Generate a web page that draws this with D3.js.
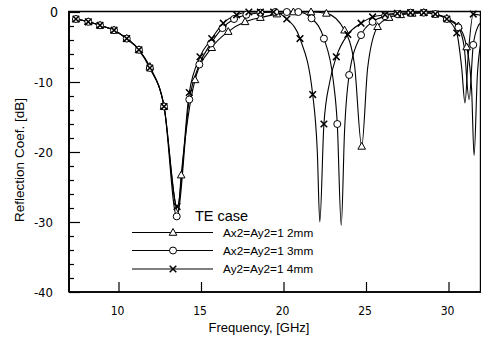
<!DOCTYPE html>
<html><head><meta charset="utf-8">
<script src="https://cdn.jsdelivr.net/npm/d3@7"></script>
<style>
html,body{margin:0;padding:0;background:#fff;}
svg{display:block;}
.tick text{font-family:"Liberation Sans Narrow","DejaVu Sans Condensed",sans-serif;}
</style></head>
<body>
<svg id="chart" width="481" height="338"></svg>
<script>
// ---- data ----
const xTicks = [10, 15, 20, 25, 30];
const yTicks = [0, -10, -20, -30, -40];
const seriesNames = ["Ax2=Ay2=1 2mm", "Ax2=Ay2=1 3mm", "Ay2=Ay2=1 4mm"];
const seriesSymbols = ["triangle", "circle", "cross"];

const f12  = [7.42,8.17,8.88,9.73,10.5,11.24,11.9,12.76,13.6,13.8,14.64,15.65,16.65,17.67,18.6,19.6,20.6,21.67,22.6,23.7,24.3,24.74,25.1,25.7,26.4,27.1,27.8,28.5,29.2,29.9,30.6,31.1,31.4,31.55,31.75,32.0];
const db12 = [-1.0,-1.4,-1.9,-2.6,-3.8,-5.4,-7.8,-13.5,-28.5,-23.3,-9.7,-5.1,-2.8,-1.4,-0.8,-0.3,0,0,-0.2,-2.6,-7.5,-19.2,-8,-2.1,-0.8,-0.4,-0.2,-0.1,-0.3,-0.9,-2.0,-5,-11,-20.5,-9,-4];
const mk12 = [1,1,1,1,1,1,1,1,0,1,1,1,1,1,1,1,1,1,1,1,0,1,0,1,1,1,1,1,1,1,1,1,0,0,0,0];

const f13  = [7.42,8.17,8.88,9.73,10.5,11.24,11.9,12.76,13.53,14.29,14.9,15.6,16.3,17.0,17.75,18.6,19.5,20.2,20.9,21.7,22.45,23.0,23.26,23.5,23.7,23.98,24.7,25.4,26.15,26.9,27.7,28.5,29.2,29.9,30.6,30.95,31.25,31.5,31.8,32.0];
const db13 = [-1.0,-1.4,-1.9,-2.6,-3.8,-5.4,-8.0,-13.5,-29.2,-12.5,-7.5,-4.5,-2.3,-1.0,-0.4,-0.1,0,0,0,-0.9,-3.8,-9.5,-16,-30.5,-17,-9,-3.3,-1.4,-0.6,-0.3,-0.1,-0.1,-0.3,-1.0,-2.2,-5,-12.5,-4.7,-2,-1.5];
const mk13 = [1,1,1,1,1,1,1,1,1,1,1,1,1,1,1,1,1,1,1,1,1,0,1,0,0,1,1,1,1,1,1,1,1,1,1,0,0,1,0,0];

const f14  = [7.42,8.17,8.88,9.73,10.5,11.24,11.9,12.76,13.55,14.29,14.94,15.65,16.35,17.16,17.9,18.6,19.4,20.2,21.0,21.77,22.05,22.2,22.45,22.8,23.2,23.9,24.7,25.4,26.15,26.9,27.7,28.5,29.2,29.9,30.5,30.8,31.0,31.2,31.5,31.8,32.0];
const db14 = [-1.0,-1.4,-1.9,-2.6,-3.8,-5.4,-8.0,-13.5,-27.8,-11.5,-6.4,-3.8,-1.6,-0.4,0,0,0,-1.0,-3.8,-11.8,-20,-30,-16,-10,-6.4,-3.2,-1.6,-0.7,-0.4,-0.2,-0.1,-0.1,-0.3,-1.0,-3,-8,-13,-6,-0.3,-0.4,-0.5];
const mk14 = [1,1,1,1,1,1,1,1,1,1,1,1,1,1,1,1,1,1,1,1,0,0,1,0,1,1,1,1,1,1,1,1,1,1,1,0,0,0,1,0,0];

// ---- build ----
const series = [
  {f: f12, db: db12, mk: mk12},
  {f: f13, db: db13, mk: mk13},
  {f: f14, db: db14, mk: mk14}
].map((s, i) => ({
  name: seriesNames[i], sym: seriesSymbols[i],
  pts: s.f.map((v, j) => ({f: v, db: s.db[j], m: s.mk[j]}))
}));

const svg = d3.select("#chart");
const L = 69, R = 481.5, T = 12, B = 292;
const x = d3.scaleLinear().domain([7, 32]).range([L, R]);
const y = d3.scaleLinear().domain([0, -40]).range([T, B]);

svg.append("defs").append("clipPath").attr("id", "clip")
  .append("rect").attr("x", L).attr("y", 0).attr("width", 480 - L).attr("height", B);

// minor y ticks
svg.append("g").attr("transform", `translate(${L},0)`)
  .call(d3.axisLeft(y).tickValues(d3.range(-2, -40, -2).filter(v => v % 10 !== 0))
    .tickSizeInner(-5).tickSizeOuter(0).tickFormat(""))
  .call(g => g.select(".domain").remove())
  .selectAll("line").attr("stroke", "#000").attr("stroke-width", 1.2);

// major y ticks
const yAx = svg.append("g").attr("transform", `translate(${L},0)`)
  .call(d3.axisLeft(y).tickValues(yTicks).tickSizeInner(-11).tickSizeOuter(0)
    .tickPadding(16).tickFormat(d => d === 0 ? "0" : String(d)));
yAx.select(".domain").remove();
yAx.selectAll("line").attr("stroke", "#000").attr("stroke-width", 1.2);
yAx.selectAll("text").attr("font-size", 13).attr("fill", "#000");
yAx.selectAll(".tick").filter(d => d === 0).select("text").attr("x", -11).attr("font-size", 14);

// x ticks
const xAx = svg.append("g").attr("transform", `translate(0,${B})`)
  .call(d3.axisBottom(x).tickValues(xTicks).tickSizeInner(-10).tickSizeOuter(0).tickPadding(14));
xAx.select(".domain").remove();
xAx.selectAll("line").attr("stroke", "#000").attr("stroke-width", 1.2);
xAx.selectAll("text").attr("font-size", 12).attr("fill", "#000").attr("dx", -1.5);

// frame
svg.append("path")
  .attr("d", `M${L},${B}V11.5H480.5V${B}H${L}`)
  .attr("fill", "none").attr("stroke", "#000").attr("stroke-width", 1.4);
svg.append("line").attr("x1", L).attr("x2", L).attr("y1", 11).attr("y2", B + 0.5)
  .attr("stroke", "#000").attr("stroke-width", 1.8);
svg.append("line").attr("x1", L).attr("x2", 481).attr("y1", B).attr("y2", B)
  .attr("stroke", "#000").attr("stroke-width", 1.6);

// symbols
function drawSym(g, sym, cx, cy) {
  if (sym === "triangle") {
    g.append("path").attr("d", `M${cx},${cy - 4}L${cx + 3.8},${cy + 2.8}L${cx - 3.8},${cy + 2.8}Z`)
      .attr("fill", "#fff").attr("stroke", "#000").attr("stroke-width", 1);
  } else if (sym === "circle") {
    g.append("circle").attr("cx", cx).attr("cy", cy).attr("r", 3.5)
      .attr("fill", "#fff").attr("stroke", "#000").attr("stroke-width", 1);
  } else {
    g.append("path").attr("d", `M${cx - 3.3},${cy - 3.3}L${cx + 3.3},${cy + 3.3}M${cx + 3.3},${cy - 3.3}L${cx - 3.3},${cy + 3.3}`)
      .attr("fill", "none").attr("stroke", "#000").attr("stroke-width", 1.5);
  }
}

const plot = svg.append("g").attr("clip-path", "url(#clip)");
const line = d3.line().x(d => x(d.f)).y(d => y(d.db)).curve(d3.curveMonotoneX);
series.forEach(s => {
  plot.append("path").attr("d", line(s.pts))
    .attr("fill", "none").attr("stroke", "#000").attr("stroke-width", 1.1);
});
series.forEach(s => {
  const g = plot.append("g");
  s.pts.filter(p => p.m).forEach(p => drawSym(g, s.sym, x(p.f), y(p.db)));
});

// legend
svg.append("text").attr("x", 195).attr("y", 221).attr("font-family", "Liberation Sans, Arial, sans-serif")
  .attr("font-size", 14.5).attr("fill", "#000").text("TE case");
const legY = [232.5, 250.5, 269];
series.forEach((s, i) => {
  const g = svg.append("g");
  g.append("line").attr("x1", 132).attr("x2", 213).attr("y1", legY[i]).attr("y2", legY[i])
    .attr("stroke", "#000").attr("stroke-width", 1.1);
  drawSym(g, s.sym, 173, legY[i]);
  g.append("text").attr("x", 223).attr("y", legY[i] + 4.2)
    .attr("font-family", "Liberation Sans, Arial, sans-serif").attr("font-size", 11.8)
    .attr("fill", "#000").text(s.name);
});

// axis titles
svg.append("text").attr("x", 259).attr("y", 332).attr("text-anchor", "middle")
  .attr("font-family", "Liberation Sans, Arial, sans-serif").attr("font-size", 13).attr("fill", "#000")
  .text("Frequency, [GHz]");
svg.append("text").attr("transform", "translate(24,160) rotate(-90)").attr("text-anchor", "middle")
  .attr("font-family", "Liberation Sans, Arial, sans-serif").attr("font-size", 13.5).attr("fill", "#000")
  .text("Reflection Coef. [dB]");
</script>
</body></html>
